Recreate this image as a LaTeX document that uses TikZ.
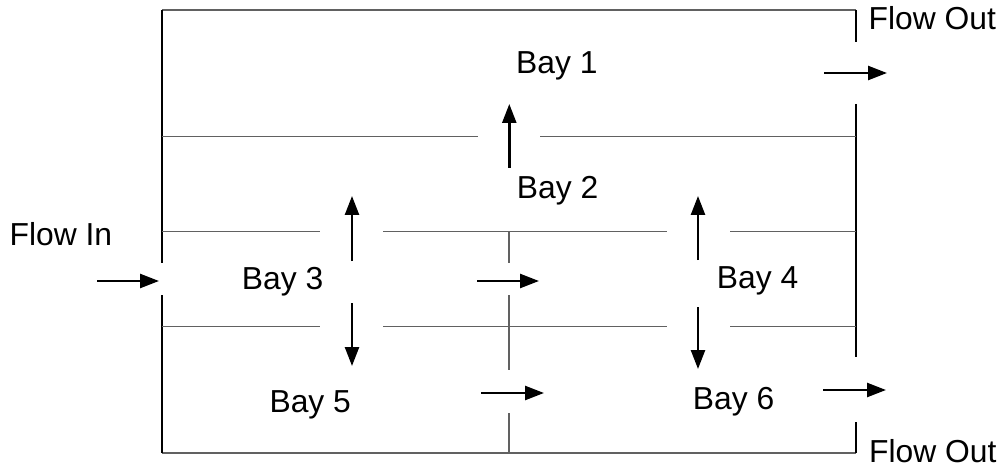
\documentclass[tikz,border=0pt]{standalone}
\usepackage{fontspec}
\setmainfont{Liberation Sans}
\usetikzlibrary{arrows.meta}
\begin{document}
\begin{tikzpicture}[x=1pt,y=-1pt,
  wall/.style={line width=1.2pt,draw=black!62},
  outer/.style={line width=1.3pt,draw=black},
  flow/.style={line width=2.5pt,-{Triangle[length=19pt,width=14pt]}},
  lbl/.style={anchor=base west,inner sep=0pt,font=\fontsize{31.8}{36}\selectfont}]
\useasboundingbox (0,0) rectangle (1004,465);

% outer walls with openings
\draw[wall] (162,10) -- (856,10);
\draw[wall] (162,453) -- (856,453);
\draw[outer] (162,10) -- (162,263);
\draw[outer] (162,295) -- (162,453);
\draw[outer] (856,10) -- (856,42);
\draw[outer] (856,104) -- (856,357);
\draw[outer] (856,422) -- (856,453);

% inner walls with doorways
\draw[wall] (162,136.7) -- (478,136.7);
\draw[wall] (540,136.7) -- (856,136.7);
\foreach \y in {231.7,326.7}{
  \draw[wall] (162,\y) -- (320,\y);
  \draw[wall] (383,\y) -- (667,\y);
  \draw[wall] (730,\y) -- (856,\y);
}
\draw[wall] (509,231.7) -- (509,263);
\draw[wall] (509,295) -- (509,370);
\draw[wall] (509,413) -- (509,453);

% labels
\node[lbl] (in)   at (9.5,245)   {Flow In};
\node[lbl] (out1) at (868.5,30)  {Flow Out};
\node[lbl] (out2) at (869,462.5) {Flow Out};
\node[lbl] (b1) at (516,73.3)  {Bay 1};
\node[lbl] (b2) at (516.7,199) {Bay 2};
\node[lbl] (b3) at (241.7,289) {Bay 3};
\node[lbl] (b4) at (716.7,288.7) {Bay 4};
\node[lbl] (b5) at (269.4,412.3) {Bay 5};
\node[lbl] (b6) at (692.7,409.3) {Bay 6};

% flow arrows
\coordinate (inA) at (97,281);   \coordinate (inB) at (159,281);
\coordinate (o1A) at (824,73);   \coordinate (o1B) at (887,73);
\coordinate (o2A) at (823,390);  \coordinate (o2B) at (886,390);
\coordinate (u2A) at (509.3,168); \coordinate (u2B) at (509.3,104);
\coordinate (u3A) at (352,261);  \coordinate (u3B) at (352,196);
\coordinate (d3A) at (352,303);  \coordinate (d3B) at (352,366);
\coordinate (m34A) at (477,281); \coordinate (m34B) at (539,281);
\coordinate (m56A) at (481,393); \coordinate (m56B) at (544,393);
\coordinate (u4A) at (698,260);  \coordinate (u4B) at (698,196);
\coordinate (d4A) at (698,307);  \coordinate (d4B) at (698,369);
\foreach \a in {in,o1,o2,u2,u3,d3,m34,m56,u4,d4}{
  \draw[flow] (\a A) -- (\a B);
}
\end{tikzpicture}
\end{document}
